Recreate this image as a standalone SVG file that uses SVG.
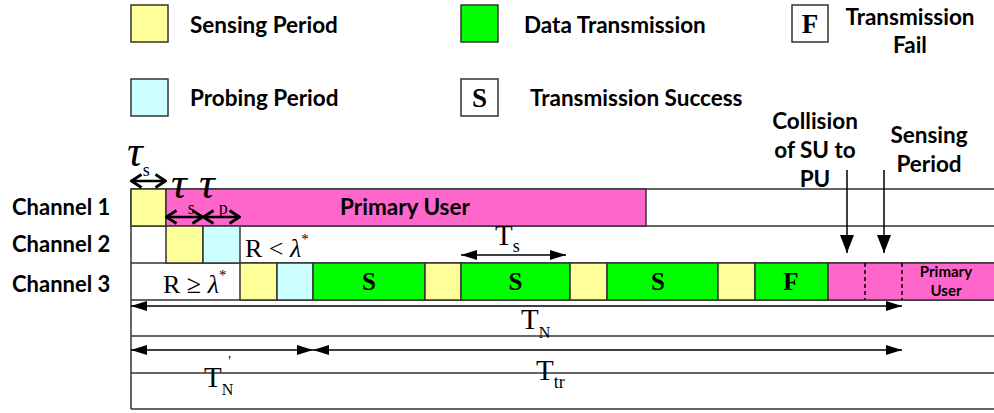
<svg xmlns="http://www.w3.org/2000/svg" width="994" height="413" viewBox="0 0 994 413">
<style>
.lbl{font-family:Lato,"Liberation Sans",sans-serif;font-weight:bold;fill:#000}
.l22{font-size:22.5px}
.l15{font-size:15px}
.ser{font-family:"Liberation Serif","Times New Roman",serif;fill:#000}
.tau{font-family:"Liberation Serif","Times New Roman",serif;font-style:italic;font-size:44px;fill:#000}
.sub{font-family:"Liberation Serif","Times New Roman",serif;font-style:normal;font-size:18px}
.blk{stroke:#333;stroke-width:1.5}
.y{fill:#FFFF99}.c{fill:#CCFFFF}.g{fill:#00FF00}.m{fill:#FF66CC}.w{fill:#fff}
.grid{stroke:#333;stroke-width:1.5;fill:none}
.arr{stroke:#000;stroke-width:1.5;fill:none}
.oarr{stroke:#000;stroke-width:2.5;fill:none}
</style>
<defs>
<marker id="tri" viewBox="0 0 16 10" refX="16" refY="5" markerWidth="16" markerHeight="10" markerUnits="userSpaceOnUse" orient="auto-start-reverse"><path d="M0,0 L16,5 L0,10 z" fill="#000"/></marker>
<marker id="tri2" viewBox="0 0 18 14" refX="18" refY="7" markerWidth="18" markerHeight="14" markerUnits="userSpaceOnUse" orient="auto-start-reverse"><path d="M0,0 L18,7 L0,14 z" fill="#000"/></marker>
<marker id="open" viewBox="0 0 13 16" refX="12" refY="8" markerWidth="13" markerHeight="16" markerUnits="userSpaceOnUse" orient="auto-start-reverse"><path d="M1.5,1.5 L11.5,8 L1.5,14.5" fill="none" stroke="#000" stroke-width="2.8"/></marker>
</defs>
<rect width="994" height="413" fill="#fff"/>

<g id="legend">
<g id="leg-sensing"><rect class="blk y" x="131" y="5" width="37" height="37"/><text class="lbl l22" x="190" y="33">Sensing Period</text></g>
<g id="leg-probing"><rect class="blk c" x="131" y="79" width="37" height="37"/><text class="lbl l22" x="190" y="106">Probing Period</text></g>
<g id="leg-data"><rect class="blk g" x="461" y="5" width="37" height="37"/><text class="lbl l22" x="524" y="33">Data Transmission</text></g>
<g id="leg-success"><rect class="blk w" x="461" y="79" width="37" height="37"/><text class="ser" x="479.5" y="107" font-size="27" font-weight="bold" text-anchor="middle">S</text><text class="lbl l22" x="530" y="106">Transmission Success</text></g>
<g id="leg-fail"><rect class="blk w" x="792" y="5" width="36" height="37"/><text class="ser" x="810" y="33" font-size="27" font-weight="bold" text-anchor="middle">F</text><text class="lbl l22" x="910" y="25" text-anchor="middle">Transmission</text><text class="lbl l22" x="910" y="53" text-anchor="middle">Fail</text></g>
</g>

<g id="grid">
<line class="grid" x1="131" y1="189" x2="994" y2="189"/>
<line class="grid" x1="131" y1="226" x2="994" y2="226"/>
<line class="grid" x1="131" y1="263" x2="994" y2="263"/>
<line class="grid" x1="131" y1="300" x2="994" y2="300"/>
<line class="grid" x1="131" y1="336" x2="994" y2="336"/>
<line class="grid" x1="131" y1="373" x2="994" y2="373"/>
<line class="grid" x1="131" y1="409" x2="994" y2="409"/>
<line class="grid" x1="131" y1="189" x2="131" y2="409"/>
</g>

<g id="channel-labels">
<text class="lbl" x="12" y="215" style="font-size:22px">Channel 1</text>
<text class="lbl" x="12" y="252" style="font-size:22px">Channel 2</text>
<text class="lbl" x="12" y="292" style="font-size:22px">Channel 3</text>
</g>

<g id="channel1">
<rect class="blk y" x="131" y="189" width="35" height="37"/>
<rect class="blk m" x="166" y="189" width="480" height="37"/>
<text class="lbl l22" x="405" y="215" text-anchor="middle">Primary User</text>
</g>

<g id="channel2">
<rect class="blk y" x="166" y="226" width="37" height="37"/>
<rect class="blk c" x="203" y="226" width="37" height="37"/>
<line x1="240" y1="226" x2="240" y2="263" stroke="#777" stroke-width="1" stroke-dasharray="1,1"/>
<text class="ser" x="245" y="257" font-size="26">R &lt; <tspan font-style="italic">λ</tspan><tspan font-size="15" dy="-13">*</tspan></text>
</g>

<g id="channel3">
<text class="ser" x="163" y="293" font-size="26">R ≥ <tspan font-style="italic">λ</tspan><tspan font-size="15" dy="-13">*</tspan></text>
<rect class="blk y" x="240" y="263" width="37" height="37"/>
<rect class="blk c" x="277" y="263" width="36" height="37"/>
<rect class="blk g" x="313" y="263" width="112" height="37"/>
<text class="ser" x="369" y="290" font-size="25" font-weight="bold" text-anchor="middle">S</text>
<rect class="blk y" x="425" y="263" width="36" height="37"/>
<rect class="blk g" x="461" y="263" width="109" height="37"/>
<text class="ser" x="515.5" y="290" font-size="25" font-weight="bold" text-anchor="middle">S</text>
<rect class="blk y" x="570" y="263" width="37" height="37"/>
<rect class="blk g" x="607" y="263" width="111" height="37"/>
<text class="ser" x="658" y="290" font-size="25" font-weight="bold" text-anchor="middle">S</text>
<rect class="blk y" x="718" y="263" width="37" height="37"/>
<rect class="blk g" x="755" y="263" width="73" height="37"/>
<text class="ser" x="791" y="290" font-size="25" font-weight="bold" text-anchor="middle">F</text>
<rect class="blk m" x="828" y="263" width="168" height="37"/>
<line x1="865" y1="263" x2="865" y2="300" stroke="#000" stroke-width="1.5" stroke-dasharray="4,3"/>
<line x1="902" y1="263" x2="902" y2="300" stroke="#000" stroke-width="1.5" stroke-dasharray="4,3"/>
<text class="lbl l15" x="946" y="277" text-anchor="middle">Primary</text>
<text class="lbl l15" x="946" y="296" text-anchor="middle">User</text>
</g>

<g id="annotations">
<text class="lbl l22" x="815" y="129" text-anchor="middle">Collision</text>
<text class="lbl l22" x="815" y="158" text-anchor="middle">of SU to</text>
<text class="lbl l22" x="815" y="187" text-anchor="middle">PU</text>
<text class="lbl l22" x="929" y="143" text-anchor="middle">Sensing</text>
<text class="lbl l22" x="929" y="172" text-anchor="middle">Period</text>
<text class="tau" x="127" y="166">τ<tspan class="sub" dx="0" dy="10">s</tspan></text>
<text class="tau" x="171" y="198">τ<tspan class="sub" dx="1" dy="16">s</tspan></text>
<text class="tau" x="199" y="198">τ<tspan class="sub" dx="4" dy="16">p</tspan></text>
<text class="ser" x="495" y="245" font-size="29">T<tspan font-size="18" dy="7">s</tspan></text>
<text class="ser" x="521" y="329" font-size="29">T<tspan font-size="16" dy="9">N</tspan></text>
<text class="ser" x="204" y="387" font-size="29">T<tspan font-size="16" dy="8">N</tspan><tspan font-size="15" dx="-5" dy="-29">'</tspan></text>
<text class="ser" x="536" y="380" font-size="29">T<tspan font-size="18" dy="8">tr</tspan></text>
</g>

<g id="connectors">
<line class="oarr" x1="131" y1="181" x2="166" y2="181" marker-start="url(#open)" marker-end="url(#open)"/>
<line class="oarr" x1="166" y1="217" x2="203" y2="217" marker-start="url(#open)" marker-end="url(#open)"/>
<line class="oarr" x1="203" y1="217" x2="240" y2="217" marker-start="url(#open)" marker-end="url(#open)"/>
<line class="arr" x1="461" y1="255" x2="566" y2="255" marker-start="url(#tri)" marker-end="url(#tri)"/>
<line class="arr" x1="131" y1="306" x2="902" y2="306" marker-start="url(#tri)" marker-end="url(#tri)"/>
<line class="arr" x1="131" y1="350" x2="313" y2="350" marker-start="url(#tri)" marker-end="url(#tri)"/>
<line class="arr" x1="313" y1="350" x2="902" y2="350" marker-start="url(#tri)" marker-end="url(#tri)"/>
<line class="arr" x1="847" y1="170" x2="847" y2="253" stroke-width="2.5" marker-end="url(#tri2)"/>
<line class="arr" x1="884" y1="170" x2="884" y2="253" stroke-width="2.5" marker-end="url(#tri2)"/>
</g>
</svg>
